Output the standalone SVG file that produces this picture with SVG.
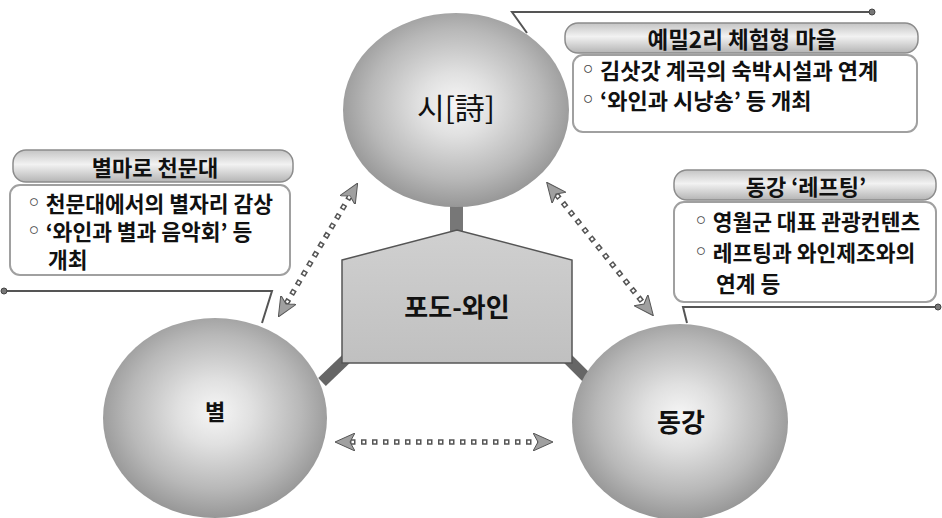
<svg xmlns="http://www.w3.org/2000/svg" width="942" height="518" viewBox="0 0 942 518">
<style>
text{font-family:"Noto Sans CJK KR","Noto Sans",sans-serif;fill:#111}
.t{font-size:22px;font-weight:700;text-anchor:middle;dominant-baseline:central}
.b{font-size:21.5px;font-weight:700;dominant-baseline:central}
.bul{font-family:"DejaVu Sans",sans-serif;font-weight:700;fill:#444}
.pill{fill:url(#pillG);stroke:#8c8c8c;stroke-width:1.5}
.body{fill:#fff;stroke:#a0a0a0;stroke-width:2}
.lead{fill:none;stroke:#555;stroke-width:2}
.dotend{fill:#777;stroke:#444;stroke-width:1}
.ball{stroke:none}
.lbl{font-weight:700;text-anchor:middle;dominant-baseline:central}
.dk{fill:none;stroke:#555;stroke-width:5.5;stroke-dasharray:5.5 5.5}
.wh{fill:none;stroke:#fff;stroke-width:2.5;stroke-dasharray:2.5 8.5;stroke-dashoffset:-1.5}
.bar{stroke:#666;stroke-width:11}
</style>
<defs>
<linearGradient id="pillG" x1="0" y1="0" x2="0" y2="1">
<stop offset="0" stop-color="#c4c4c4"/><stop offset="0.45" stop-color="#f2f2f2"/><stop offset="1" stop-color="#b4b4b4"/>
</linearGradient>
<radialGradient id="ballG" cx="0.5" cy="0.47" r="0.55">
<stop offset="0" stop-color="#f6f6f6"/><stop offset="0.3" stop-color="#e0e0e0"/><stop offset="0.7" stop-color="#b8b8b8"/><stop offset="1" stop-color="#929292"/>
</radialGradient>
<linearGradient id="pentG" x1="0" y1="0" x2="0" y2="1">
<stop offset="0" stop-color="#d0d0d0"/><stop offset="1" stop-color="#c0c0c0"/>
</linearGradient>
<marker id="ah" viewBox="0 0 20 18" refX="5" refY="9" markerWidth="20" markerHeight="18" markerUnits="userSpaceOnUse" orient="auto-start-reverse">
<path d="M0,0 L20,9 L0,18 L5,9 z" fill="#a0a0a0" stroke="#555" stroke-width="1"/>
</marker>
</defs>

<g id="connectors">
<rect x="450" y="192" width="13" height="40" fill="#777"/>
<line class="bar" x1="346" y1="359" x2="322" y2="382"/>
<line class="bar" x1="568" y1="359" x2="590" y2="381"/>
<path class="dk" d="M286,304 L350,196" marker-start="url(#ah)" marker-end="url(#ah)"/>
<path class="wh" d="M286,304 L350,196"/>
<path class="dk" d="M556,194 L644,304" marker-start="url(#ah)" marker-end="url(#ah)"/>
<path class="wh" d="M556,194 L644,304"/>
<path class="dk" d="M350,442 L538,442" marker-start="url(#ah)" marker-end="url(#ah)"/>
<path class="wh" d="M350,442 L538,442"/>
</g>

<g id="node-poem">
<ellipse class="ball" cx="456" cy="110" rx="113" ry="97" fill="url(#ballG)"/>
<text class="lbl" x="456" y="106" style="font-size:30px;font-weight:400">시[詩]</text>
</g>

<g id="node-star">
<ellipse class="ball" cx="215" cy="418" rx="112" ry="100" fill="url(#ballG)"/>
<text class="lbl" x="215" y="410" style="font-size:22px">별</text>
</g>

<g id="node-donggang">
<ellipse class="ball" cx="680" cy="422" rx="108" ry="98" fill="url(#ballG)"/>
<text class="lbl" x="681" y="420" style="font-size:26px">동강</text>
</g>

<g id="node-wine">
<polygon points="342,260 457,230 572,260 572,363 342,363" fill="url(#pentG)" stroke="#555" stroke-width="1.5"/>
<text class="lbl" x="457" y="305" style="font-size:26px">포도-와인</text>
</g>

<g id="callout-yemil">
<polyline class="lead" points="527,33 512,12 872,12"/>
<circle class="dotend" cx="872" cy="12" r="3"/>
<rect class="pill" x="565" y="23" width="353" height="30" rx="13"/>
<rect class="body" x="573" y="55" width="344" height="77" rx="10"/>
<text class="t" x="742" y="38" style="font-size:22.5px">예밀2리 체험형 마을</text>
<text class="b" x="581" y="69" style="font-size:22px"><tspan class="bul">◦</tspan> 김삿갓 계곡의 숙박시설과 연계</text>
<text class="b" x="581" y="99" style="font-size:22px"><tspan class="bul">◦</tspan> ‘와인과 시낭송’ 등 개최</text>
</g>

<g id="callout-byeolmaro">
<polyline class="lead" points="4,291 272,291 262,323"/>
<circle class="dotend" cx="4" cy="291" r="3"/>
<rect class="pill" x="13" y="150" width="280" height="32" rx="13"/>
<rect class="body" x="10" y="185" width="280" height="90" rx="10"/>
<text class="t" x="155" y="166">별마로 천문대</text>
<text class="b" x="27" y="202"><tspan class="bul">◦</tspan> 천문대에서의 별자리 감상</text>
<text class="b" x="27" y="230"><tspan class="bul">◦</tspan> ‘와인과 별과 음악회’ 등</text>
<text class="b" x="48" y="258">개최</text>
</g>

<g id="callout-rafting">
<polyline class="lead" points="687,323 683,307 938,307"/>
<circle class="dotend" cx="938" cy="307" r="3"/>
<rect class="pill" x="674" y="170" width="262" height="30" rx="13"/>
<rect class="body" x="674" y="202" width="262" height="100" rx="10"/>
<text class="t" x="806" y="185">동강 ‘레프팅’</text>
<text class="b" x="694" y="220"><tspan class="bul">◦</tspan> 영월군 대표 관광컨텐츠</text>
<text class="b" x="694" y="251"><tspan class="bul">◦</tspan> 레프팅과 와인제조와의</text>
<text class="b" x="716" y="282">연계 등</text>
</g>
</svg>
